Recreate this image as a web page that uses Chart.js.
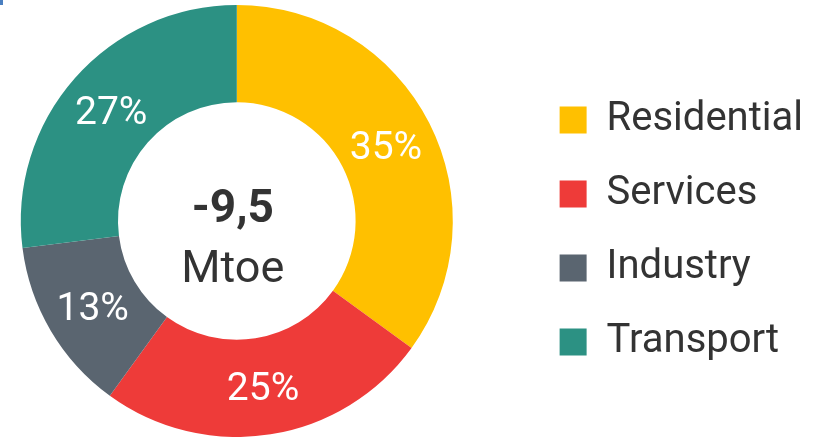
<!DOCTYPE html>
<html lang="en">
<head>
    <meta charset="UTF-8">
    <title>Energy savings by sector</title>
    <script src="https://cdn.jsdelivr.net/npm/chart.js"></script>
    <style>
        body {
            margin: 0;
            background: white;
            font-family: 'Roboto', sans-serif;
            overflow: hidden;
        }
        .wrap {
            position: relative;
            width: 833px;
            height: 437px;
            overflow: hidden;
        }
        /* canvas shifted left so the ring sits near the left edge */
        #sectorChart {
            position: absolute;
            left: -52px;
            top: 0;
        }
        .corner {
            position: absolute;
            left: 0;
            top: 0;
            width: 3px;
            height: 5px;
            background: #4a7fc0;
        }
    </style>
</head>
<body>
    <div class="wrap">
        <canvas id="sectorChart" width="865" height="437"></canvas>
        <div class="corner"></div>
    </div>
    <script>
        const sectors = ["Residential", "Services", "Industry", "Transport"];
        const shares = [35, 25, 13, 27];
        const sectorColors = ["#ffc000", "#ee3b39", "#5a6570", "#2c9183"];
        const centerValue = "-9,5";
        const centerUnit = "Mtoe";

        const textColor = "#333333";

        // percent labels inside each slice + total in the hole
        const labelPlugin = {
            id: "sliceLabels",
            afterDatasetsDraw(chart) {
                const ctx = chart.ctx;
                const meta = chart.getDatasetMeta(0);
                ctx.save();
                ctx.fillStyle = "white";
                ctx.font = "400 39px Roboto";
                ctx.textAlign = "center";
                ctx.textBaseline = "middle";
                meta.data.forEach(function (arc, i) {
                    const pos = arc.tooltipPosition();
                    ctx.fillText(shares[i] + "%", pos.x, pos.y + 4);
                });

                const cx = meta.data[0].x - 4;
                const cy = meta.data[0].y;
                ctx.fillStyle = textColor;
                ctx.textBaseline = "alphabetic";
                ctx.font = "bold 46px Roboto";
                ctx.fillText(centerValue, cx, cy + 1);
                ctx.font = "400 45px Roboto";
                ctx.fillText(centerUnit, cx, cy + 61);
                ctx.restore();
            }
        };

        new Chart(document.getElementById("sectorChart"), {
            type: "doughnut",
            data: {
                labels: sectors,
                datasets: [{
                    data: shares,
                    backgroundColor: sectorColors,
                    borderWidth: 0
                }]
            },
            options: {
                responsive: false,
                animation: false,
                cutout: "55%",
                layout: { padding: { left: 0, top: 5, right: 0, bottom: 0 } },
                plugins: {
                    tooltip: { enabled: false },
                    legend: {
                        position: "right",
                        align: "center",
                        // empty title only pushes the items down a little
                        title: { display: true, text: "", font: { size: 10 }, padding: { top: 4, bottom: 4 } },
                        labels: {
                            boxWidth: 27,
                            boxHeight: 27,
                            padding: 34,
                            color: textColor,
                            font: { family: "Roboto", size: 40 }
                        }
                    }
                }
            },
            plugins: [labelPlugin]
        });
    </script>
</body>
</html>
